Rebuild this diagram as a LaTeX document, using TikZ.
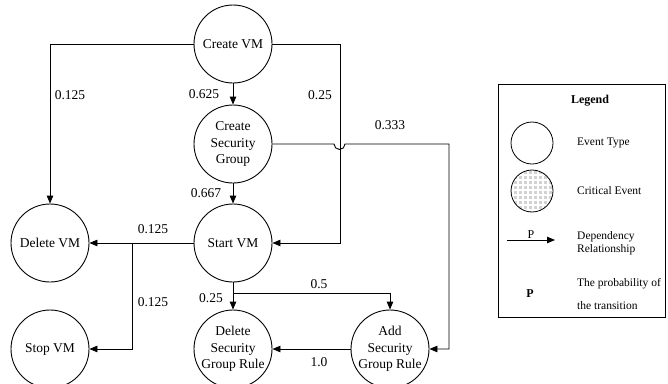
\documentclass[tikz,border=0pt]{standalone}
\usepackage{fontspec}
\setmainfont{Liberation Serif}
\usetikzlibrary{arrows,arrows.meta}

\tikzset{
  event/.style={circle,draw,line width=0.9pt,minimum size=78pt,inner sep=0pt,align=center,
    font=\fontsize{13.5}{16.5}\selectfont},
  prob/.style={font=\fontsize{13.5}{16}\selectfont,inner sep=1pt},
  flow/.style={line width=0.9pt,-{Triangle[length=8pt,width=6.5pt]}},
  lgd/.style={font=\fontsize{11.5}{12.5}\selectfont,align=left,anchor=west,inner sep=0pt},
  mesh/.style={fill=gray!35,path picture={
      \foreach \k in {-24,-19,...,24} {
        \draw[white,line width=1.1pt] ([xshift=\k pt]path picture bounding box.north) -- ([xshift=\k pt]path picture bounding box.south);
        \draw[white,line width=1.1pt] ([yshift=\k pt]path picture bounding box.west) -- ([yshift=\k pt]path picture bounding box.east);
      }}}
}

\begin{document}
\begin{tikzpicture}[x=1pt,y=-1pt]
      \useasboundingbox (0,0) rectangle (668,383);
      % events
      \node[event] (cvm)  at (233,44)  {Create VM};
      \node[event] (csg)  at (233,144) {Create\\Security\\Group};
      \node[event] (svm)  at (233,243) {Start VM};
      \node[event] (dvm)  at (50,243)  {Delete VM};
      \node[event] (stvm) at (50,349)  {Stop VM};
      \node[event] (dsgr) at (233,349) {Delete\\Security\\Group Rule};
      \node[event] (asgr) at (390,349) {Add\\Security\\Group Rule};
      % bends
      \coordinate (r25)  at (340,44);
      \coordinate (hop)  at (334,144);
      \coordinate (r333) at (449,144);
      \coordinate (fork) at (132,243);
      \coordinate (down) at (233,293);
      % transitions
      \draw[flow] (cvm.west) -| (dvm.north);
      \draw[flow] (cvm.east) -- (r25) |- (svm.east);
      \draw[flow] (cvm) -- (csg);
      \draw[flow] (csg) -- (svm);
      \draw[flow] (csg.east) -- (hop) arc[start angle=180,end angle=0,radius=5.5] -- (r333) |- (asgr.east);
      \draw[flow] (svm.west) -- (dvm.east);
      \draw[flow] (fork) |- (stvm.east);
      \draw[flow] (svm) -- (dsgr);
      \draw[flow] (down) -| (asgr.north);
      \draw[flow] (asgr) -- (dsgr);
      % probabilities
      \node[prob] (p1) at (70,95)   {0.125};
      \node[prob] (p2) at (204,94)  {0.625};
      \node[prob] (p3) at (320,95)  {0.25};
      \node[prob] (p4) at (390,125) {0.333};
      \node[prob] (p5) at (206,193) {0.667};
      \node[prob] (p6) at (153,229) {0.125};
      \node[prob] (p7) at (153,302) {0.125};
      \node[prob] (p8) at (211,298) {0.25};
      \node[prob] (p9) at (319,284) {0.5};
      \node[prob] (p10) at (319,362) {1.0};
      % legend
      \draw[line width=0.8pt] (498,84) rectangle (665,317);
      \node[font=\fontsize{12}{12}\selectfont\bfseries] (ltitle) at (590,101) {Legend};
      \node[circle,draw,line width=0.8pt,minimum size=42pt,inner sep=0pt] (lev) at (532,143) {};
      \node[circle,draw,line width=0.8pt,minimum size=42pt,inner sep=0pt,mesh] (lcr) at (532,191) {};
      \coordinate (la) at (507,240);
      \coordinate (lb) at (555,240);
      \draw[flow] (la) -- node[above,font=\fontsize{12}{12}\selectfont,inner sep=1.5pt] (lp) {P} (lb);
      \node[font=\fontsize{12}{12}\selectfont\bfseries] (lpb) at (530,294) {P};
      \node[lgd] (t1) at (577,143) {Event Type};
      \node[lgd] (t2) at (577,191) {Critical Event};
      \node[lgd] (t3) at (577,243) {Dependency\\Relationship};
      \node[lgd] (t4) at (577,294) {The probability of\\[10pt]the transition};
    \end{tikzpicture}
\end{document}
